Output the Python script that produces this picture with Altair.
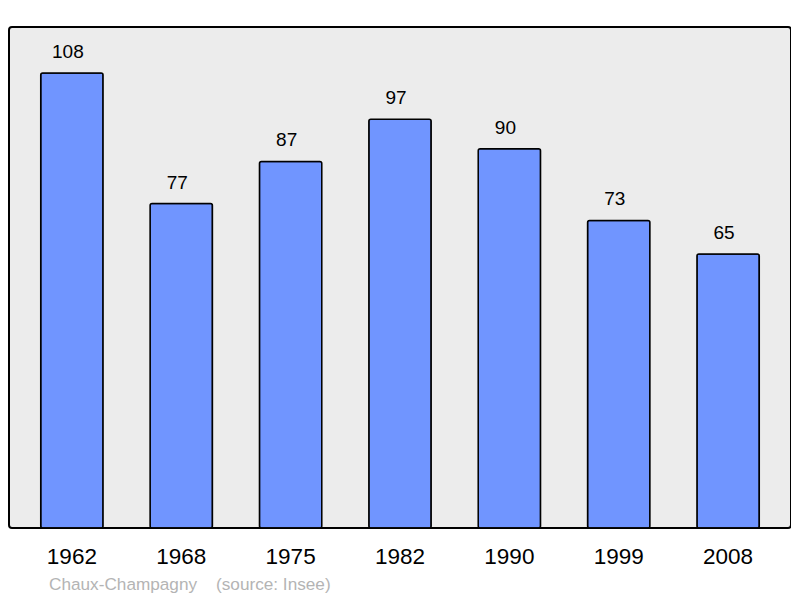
import altair as alt
import pandas as pd

years = ["1962", "1968", "1975", "1982", "1990", "1999", "2008"]
population = [108, 77, 87, 97, 90, 73, 65]
footer_text = ["Chaux-Champagny", "(source: Insee)"]
footer_x = [40, 207]

df = pd.DataFrame({"year": years, "pop": population})
fdf = pd.DataFrame({"t": footer_text, "fx": footer_x})

FONT = "Liberation Sans"

x = alt.X("year:N", sort=years, title=None,
          scale=alt.Scale(paddingInner=0.43, paddingOuter=0.29),
          axis=alt.Axis(labelAngle=0, labelFontSize=22.5, labelFont=FONT,
                        labelColor="#000", domain=False, ticks=False,
                        labelPadding=17, grid=False))
y = alt.Y("pop:Q", title=None, scale=alt.Scale(domain=[0, 118.9], nice=False),
          axis=None)

bars = alt.Chart(df).mark_bar(
    fill="#7095ff", stroke="#000", strokeWidth=1.5, cornerRadius=2
).encode(x=x, y=y)

labels = alt.Chart(df).mark_text(
    dy=-21, dx=-4, fontSize=19, font=FONT, color="#000"
).encode(x=alt.X("year:N", sort=years), y="pop:Q", text="pop:Q")

foot = alt.Chart(fdf).mark_text(
    align="left", baseline="middle", fontSize=17.2, font=FONT, color="#b4b4b4"
).encode(x=alt.X("fx:Q", scale=None), y=alt.value(557.5), text="t:N")

chart = alt.layer(bars, labels, foot).properties(
    width=782, height=501,
    autosize=alt.AutoSizeParams(type="none"),
    padding={"left": 1, "top": 19, "right": 0, "bottom": 70},
    background="#ffffff",
).configure_view(
    fill="#ececec", stroke="#000", strokeWidth=2, cornerRadius=3
)

chart.save("out.html", embed_options={"renderer": "svg", "actions": False})
